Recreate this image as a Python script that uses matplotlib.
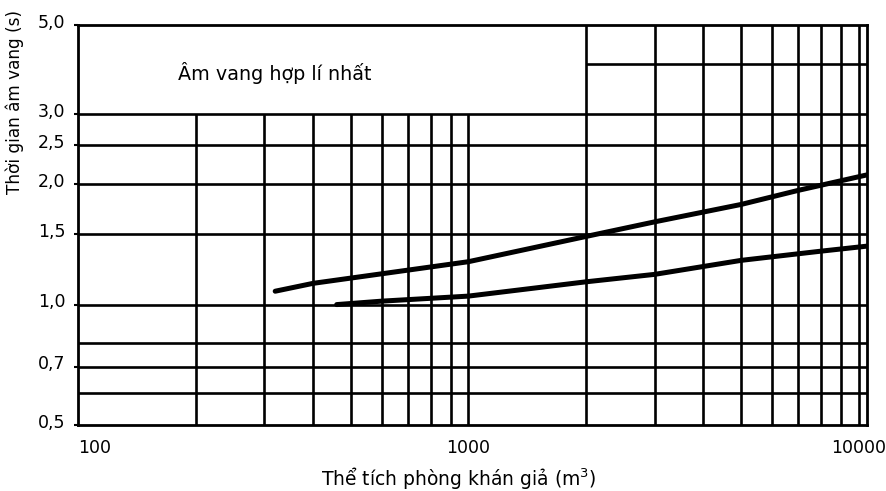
import matplotlib
matplotlib.use("Agg")
import matplotlib.pyplot as plt
from matplotlib.transforms import ScaledTranslation

plt.rcParams['font.family'] = ['DejaVu Sans']

# ---- data ----
upper_x = [320, 400, 1000, 2000, 3000, 5000, 7000, 10500]
upper_y = [1.08, 1.13, 1.28, 1.48, 1.61, 1.78, 1.93, 2.11]
lower_x = [460, 600, 1000, 2000, 3000, 5000, 8000, 10500]
lower_y = [1.00, 1.02, 1.05, 1.14, 1.19, 1.29, 1.36, 1.40]

x_grid_low = [200, 300, 400, 500, 600, 700, 800, 900, 1000]
x_grid_high = [2000, 3000, 4000, 5000, 6000, 7000, 8000, 9000, 10000]
y_grid = [0.6, 0.7, 0.8, 1.0, 1.5, 2.0, 2.5, 3.0]
y_grid_right = [4.0]

x_ticks = [100, 1000, 10000]
x_tick_labels = ["100", "1000", "10000"]
y_ticks = [0.5, 0.7, 1.0, 1.5, 2.0, 2.5, 3.0, 5.0]
y_tick_labels = ["0,5", "0,7", "1,0", "1,5", "2,0", "2,5", "3,0", "5,0"]

xlim = (100, 10500)
ylim = (0.5, 5.0)
box_top = 3.0  # lower-left grid region ends at 3.0

# ---- figure ----
fig = plt.figure(figsize=(8.86, 4.91), dpi=100)
ax = fig.add_axes([78/886, 1 - 425/491, (867 - 78)/886, (425 - 25)/491])
ax.set_xscale('log')
ax.set_yscale('log')
ax.set_xlim(*xlim)
ax.set_ylim(*ylim)

gw = 1.9
ax.hlines(y_grid, xlim[0], xlim[1], colors='black', linewidth=gw, zorder=2)
ax.hlines(y_grid_right, x_grid_high[0], xlim[1], colors='black', linewidth=gw, zorder=2)
ax.vlines(x_grid_low, ylim[0], box_top, colors='black', linewidth=gw, zorder=2)
ax.vlines(x_grid_high, ylim[0], ylim[1], colors='black', linewidth=gw, zorder=2)

ax.plot(upper_x, upper_y, color='black', linewidth=3.6, solid_capstyle='round', zorder=3)
ax.plot(lower_x, lower_y, color='black', linewidth=3.6, solid_capstyle='round', zorder=3)

for s in ax.spines.values():
    s.set_linewidth(2.0)
    s.set_color('black')

ax.minorticks_off()
ax.set_xticks(x_ticks)
ax.set_xticklabels(x_tick_labels, fontsize=12.5)
ax.set_yticks(y_ticks)
ax.set_yticklabels(y_tick_labels, fontsize=12.5)
ax.tick_params(axis='x', length=0, pad=10)
ax.tick_params(axis='y', length=3, width=1.5, pad=6)

xl = ax.get_xticklabels()
xl[0].set_ha('left')
for lab in ax.get_yticklabels():
    lab.set_transform(lab.get_transform() + ScaledTranslation(0, 3/72, fig.dpi_scale_trans))

ax.text(0.127, 0.88, "Âm vang hợp lí nhất", transform=ax.transAxes,
        fontsize=13.8, ha='left', va='center')

fig.text(459/886, 1 - 478/491, "Thể tích phòng khán giả (m$^{3}$)",
         fontsize=13.5, ha='center', va='center')
fig.text(15/886, 1 - 102/491, "Thời gian âm vang (s)", rotation=90,
         fontsize=12.2, ha='center', va='center')

fig.savefig("out.png", dpi=100, facecolor='white')
